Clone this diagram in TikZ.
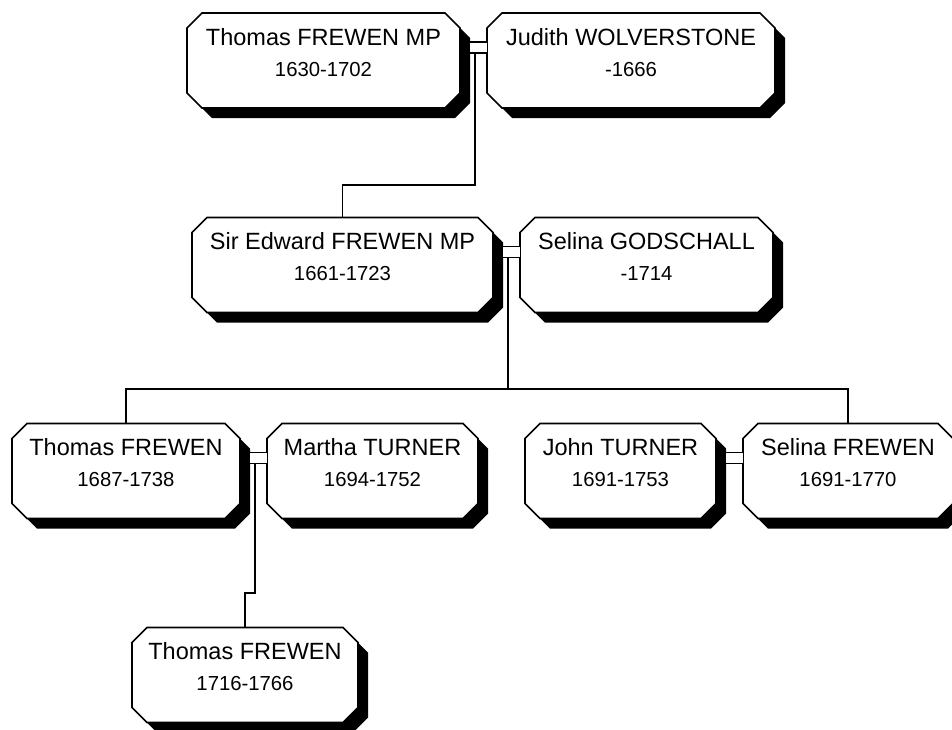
\documentclass[tikz,border=0pt]{standalone}
\usepackage{fontspec}
\setmainfont{Liberation Sans}
\usepackage{tikz}
\usetikzlibrary{backgrounds}

% name on the upper line, years on the lower one
\newcommand{\who}[2]{%
  \makebox[0pt]{\raisebox{15.5pt}[0pt][0pt]{\fontsize{23.5}{26}\selectfont #1}}%
  \makebox[0pt]{\raisebox{-15.5pt}[0pt][0pt]{\fontsize{20.3}{23}\selectfont #2}}}

% octagon round node #2, corners cut by 15pt, moved right and down by #1
\newcommand{\octa}[2]{%
  ([xshift=#1+15pt,yshift=-#1]#2.north west) -- ([xshift=#1-15pt,yshift=-#1]#2.north east)
  -- ([xshift=#1,yshift=-#1-15pt]#2.north east) -- ([xshift=#1,yshift=-#1+15pt]#2.south east)
  -- ([xshift=#1-15pt,yshift=-#1]#2.south east) -- ([xshift=#1+15pt,yshift=-#1]#2.south west)
  -- ([xshift=#1,yshift=-#1+15pt]#2.south west) -- ([xshift=#1,yshift=-#1-15pt]#2.north west) -- cycle}

\tikzset{
  person/.style={rectangle, inner sep=0pt, outer sep=0pt, minimum height=95pt},
  line/.style={line width=1.6pt},
  wed/.style={line width=1.6pt, double=white, double distance=9.5pt}
}

\begin{document}
\begin{tikzpicture}[x=1pt,y=-1pt]
    \clip (0,0) rectangle (952,729);

    % First generation
    \node[person,minimum width=273pt] (tfmp) at (323.5,60.5) {\who{Thomas FREWEN MP}{1630-1702}};
    \node[person,minimum width=288pt] (jw) at (631,60.5) {\who{Judith WOLVERSTONE}{-1666}};

    % Second generation
    \node[person,minimum width=301pt] (sef) at (342.5,265) {\who{Sir Edward FREWEN MP}{1661-1723}};
    \node[person,minimum width=253pt] (sg) at (646.5,265) {\who{Selina GODSCHALL}{-1714}};

    % Third generation
    \node[person,minimum width=228pt] (tf) at (126,471) {\who{Thomas FREWEN}{1687-1738}};
    \node[person,minimum width=211pt] (mt) at (372.5,471) {\who{Martha TURNER}{1694-1752}};
    \node[person,minimum width=191pt] (jt) at (620.5,471) {\who{John TURNER}{1691-1753}};
    \node[person,minimum width=210pt] (sf) at (848,471) {\who{Selina FREWEN}{1691-1770}};

    % Fourth generation
    \node[person,minimum width=226pt] (tfj) at (245,675) {\who{Thomas FREWEN}{1716-1766}};

    % Boxes and their shadows
    \begin{scope}[on background layer]
        \fill[white] (0,0) rectangle (952,729);
        \foreach \n in {tfmp,jw,sef,sg,tf,mt,jt,sf,tfj} {
            \fill[black] \octa{10pt}{\n};
            \draw[line,fill=white] \octa{0pt}{\n};
        }
    \end{scope}

    % Marriages
    \draw[wed] ([xshift=10pt,yshift=13pt]tfmp.east) -- ([yshift=13pt]jw.west);
    \draw[wed] ([xshift=10pt,yshift=13pt]sef.east) -- ([yshift=13pt]sg.west);
    \draw[wed] ([xshift=10pt,yshift=13pt]tf.east) -- ([yshift=13pt]mt.west);
    \draw[wed] ([xshift=10pt,yshift=13pt]jt.east) -- ([yshift=13pt]sf.west);

    % Descent lines
    \coordinate (d1) at ([xshift=15pt,yshift=7.5pt]tfmp.east);
    \coordinate (d2) at ([xshift=15pt,yshift=7.5pt]sef.east);
    \coordinate (d3) at ([xshift=15pt,yshift=7.5pt]tf.east);
    \coordinate (r1) at (0,185);
    \coordinate (r2) at (0,389);
    \coordinate (r3) at (0,593);
    \draw[line] (d1) -- (d1 |- r1) -| (sef.north);
    \draw[line] (d2) -- (d2 |- r2);
    \draw[line] (tf.north) |- (d2 |- r2) -| (sf.north);
    \draw[line] (d3) -- (d3 |- r3) -| (tfj.north);
\end{tikzpicture}
\end{document}
